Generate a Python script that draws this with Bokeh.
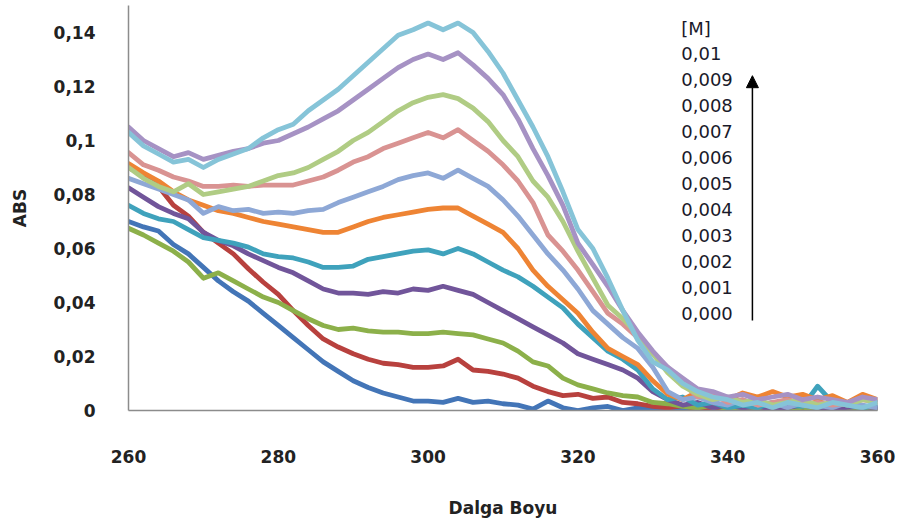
from bokeh.plotting import figure
from bokeh.models import FixedTicker, Arrow, NormalHead, Range1d, ColumnDataSource
from bokeh.core.properties import value
from bokeh.embed import file_html
from bokeh.resources import INLINE

# ---------------- data ----------------
wavelength = [260, 262, 264, 266, 268, 270, 272, 274, 276, 278,
              280, 282, 284, 286, 288, 290, 292, 294, 296, 298,
              300, 302, 304, 306, 308, 310, 312, 314, 316, 318,
              320, 322, 324, 326, 328, 330, 332, 334, 336, 338,
              340, 342, 344, 346, 348, 350, 352, 354, 356, 358, 360]

abs_0000 = [.0700, .0680, .0665, .0615, .0580, .0530, .0480, .0440, .0405, .0360,
            .0315, .0270, .0225, .0180, .0145, .0110, .0085, .0065, .0050, .0035,
            .0035, .0030, .0045, .0030, .0035, .0025, .0020, .0005, .0035, .0010,
            .0000, .0010, .0015, .0000, .0010, .0005, .0012, .0002, .0010, .0004,
            .0012, .0000, .0006, .0012, .0002, .0008, .0012, .0002, .0006, .0010, .0003]
abs_0001 = [.0900, .0870, .0830, .0760, .0720, .0660, .0620, .0580, .0525, .0475,
            .0430, .0370, .0315, .0265, .0235, .0210, .0190, .0175, .0170, .0160,
            .0160, .0165, .0190, .0150, .0145, .0135, .0120, .0090, .0070, .0055,
            .0060, .0045, .0050, .0030, .0025, .0015, .0010, .0018, .0005, .0012,
            .0002, .0010, .0006, .0000, .0010, .0005, .0002, .0010, .0006, .0001, .0010]
abs_0002 = [.0675, .0650, .0620, .0590, .0550, .0490, .0510, .0480, .0450, .0420,
            .0400, .0370, .0340, .0315, .0300, .0305, .0295, .0290, .0290, .0285,
            .0285, .0290, .0285, .0280, .0265, .0250, .0220, .0180, .0165, .0120,
            .0095, .0080, .0065, .0055, .0050, .0030, .0025, .0015, .0010, .0020,
            .0005, .0012, .0003, .0010, .0005, .0012, .0002, .0010, .0005, .0012, .0004]
abs_0003 = [.0825, .0790, .0755, .0730, .0710, .0660, .0630, .0610, .0580, .0555,
            .0530, .0510, .0480, .0450, .0435, .0435, .0430, .0440, .0435, .0450,
            .0445, .0460, .0445, .0430, .0400, .0370, .0340, .0310, .0280, .0250,
            .0210, .0190, .0170, .0150, .0120, .0070, .0040, .0020, .0030, .0010,
            .0020, .0010, .0015, .0005, .0012, .0020, .0010, .0005, .0012, .0015, .0010]
abs_0004 = [.0760, .0730, .0710, .0700, .0670, .0640, .0630, .0620, .0605, .0580,
            .0570, .0565, .0550, .0530, .0530, .0535, .0560, .0570, .0580, .0590,
            .0595, .0580, .0600, .0580, .0550, .0520, .0495, .0460, .0420, .0380,
            .0320, .0270, .0220, .0190, .0150, .0080, .0040, .0050, .0020, .0030,
            .0010, .0020, .0010, .0030, .0020, .0015, .0090, .0030, .0020, .0010, .0020]
abs_0005 = [.0915, .0880, .0850, .0810, .0780, .0760, .0740, .0730, .0715, .0700,
            .0690, .0680, .0670, .0660, .0660, .0680, .0700, .0715, .0725, .0735,
            .0745, .0750, .0750, .0720, .0690, .0660, .0600, .0520, .0460, .0410,
            .0360, .0290, .0230, .0200, .0170, .0110, .0060, .0040, .0070, .0060,
            .0040, .0065, .0050, .0070, .0050, .0060, .0040, .0055, .0030, .0060, .0040]
abs_0006 = [.0860, .0840, .0820, .0800, .0780, .0730, .0755, .0740, .0745, .0730,
            .0735, .0730, .0740, .0745, .0770, .0790, .0810, .0830, .0855, .0870,
            .0880, .0860, .0890, .0860, .0830, .0780, .0720, .0650, .0580, .0520,
            .0450, .0370, .0320, .0270, .0230, .0160, .0070, .0040, .0050, .0030,
            .0020, .0040, .0020, .0030, .0010, .0030, .0020, .0010, .0030, .0020, .0010]
abs_0007 = [.0955, .0910, .0890, .0865, .0850, .0830, .0830, .0835, .0830, .0835,
            .0835, .0835, .0850, .0865, .0890, .0920, .0940, .0970, .0990, .1010,
            .1030, .1010, .1040, .1000, .0960, .0910, .0850, .0770, .0650, .0590,
            .0520, .0440, .0360, .0320, .0270, .0210, .0160, .0100, .0050, .0060,
            .0030, .0040, .0020, .0030, .0040, .0020, .0030, .0020, .0030, .0040, .0030]
abs_0008 = [.0900, .0860, .0830, .0810, .0840, .0800, .0810, .0820, .0830, .0850,
            .0870, .0880, .0900, .0930, .0960, .1000, .1030, .1070, .1110, .1140,
            .1160, .1170, .1155, .1120, .1070, .1000, .0940, .0850, .0790, .0700,
            .0590, .0490, .0390, .0340, .0280, .0210, .0140, .0090, .0060, .0040,
            .0050, .0030, .0040, .0020, .0030, .0040, .0020, .0030, .0020, .0040, .0030]
abs_0009 = [.1050, .1000, .0970, .0940, .0955, .0930, .0945, .0960, .0970, .0990,
            .1000, .1025, .1050, .1080, .1110, .1150, .1190, .1230, .1270, .1300,
            .1320, .1300, .1325, .1280, .1230, .1170, .1080, .0970, .0870, .0760,
            .0620, .0540, .0460, .0370, .0290, .0220, .0160, .0120, .0080, .0070,
            .0050, .0060, .0040, .0050, .0060, .0040, .0050, .0040, .0030, .0050, .0040]
abs_0010 = [.1030, .0980, .0950, .0920, .0930, .0900, .0930, .0950, .0970, .1010,
            .1040, .1060, .1110, .1150, .1190, .1240, .1290, .1340, .1390, .1410,
            .1435, .1410, .1435, .1400, .1330, .1250, .1150, .1050, .0940, .0810,
            .0670, .0600, .0490, .0370, .0260, .0180, .0150, .0100, .0070, .0050,
            .0040, .0020, .0030, .0010, .0030, .0020, .0010, .0030, .0020, .0010, .0030]

series = [abs_0000, abs_0001, abs_0002, abs_0003, abs_0004, abs_0005,
          abs_0006, abs_0007, abs_0008, abs_0009, abs_0010]
series_colors = ["#4375B7", "#B8413E", "#8CB04A", "#71559A", "#3FA2BC", "#EE8434",
                 "#8EA8D6", "#D99392", "#B0CC84", "#A692C4", "#86C4D8"]

key_title = "[M]"
key_labels = ["0,01", "0,009", "0,008", "0,007", "0,006", "0,005",
              "0,004", "0,003", "0,002", "0,001", "0,000"]

x_ticks = [260, 280, 300, 320, 340, 360]
x_tick_labels = ["260", "280", "300", "320", "340", "360"]
y_ticks = [0, 0.02, 0.04, 0.06, 0.08, 0.1, 0.12, 0.14]
y_tick_labels = ["0", "0,02", "0,04", "0,06", "0,08", "0,1", "0,12", "0,14"]

# ---------------- figure ----------------
p = figure(width=904, height=528,
           x_range=Range1d(260, 360), y_range=Range1d(0, 0.15),
           output_backend="svg", toolbar_location=None,
           min_border_left=128, min_border_right=27,
           min_border_top=5, min_border_bottom=118)
p.outline_line_color = None
p.xgrid.visible = False
p.ygrid.visible = False
p.background_fill_color = "white"
p.border_fill_color = "white"

for ys, col in zip(series, series_colors):
    p.line(wavelength, ys, line_color=col, line_width=4.8,
           line_join="round", line_cap="round")

tick_font = "DejaVu Sans"
for ax in (p.xaxis[0], p.yaxis[0]):
    ax.major_tick_line_color = None
    ax.minor_tick_line_color = None
    ax.axis_line_color = "#8C8C8C"
    ax.axis_line_width = 1.5
    ax.major_label_text_font = tick_font
    ax.major_label_text_font_style = "bold"
    ax.major_label_text_font_size = "17px"
    ax.major_label_text_color = "#222222"
    ax.axis_label_text_font = tick_font
    ax.axis_label_text_font_style = "bold"
    ax.axis_label_text_font_size = "17px"
    ax.axis_label_text_color = "#222222"

p.xaxis.ticker = FixedTicker(ticks=x_ticks)
p.xaxis.major_label_overrides = dict(zip(x_ticks, x_tick_labels))
p.xaxis.major_label_standoff = 33
p.xaxis.axis_label = "Dalga Boyu"
p.xaxis.axis_label_standoff = 32

p.yaxis.ticker = FixedTicker(ticks=y_ticks)
p.yaxis.major_label_overrides = dict(zip(y_ticks, y_tick_labels))
p.yaxis.major_label_standoff = 27
p.yaxis.axis_label = "ABS"
p.yaxis.axis_label_standoff = 21

# ---------------- concentration key ----------------
key_x = 333.8
key_top = 0.1322
key_step = 0.00963
key_y = [key_top - i * key_step for i in range(len(key_labels))]
src = ColumnDataSource(dict(x=[key_x] * (len(key_labels) + 1),
                            y=[0.1415] + key_y,
                            t=[key_title] + key_labels))
p.text(x="x", y="y", text="t", source=src,
       text_font=value("DejaVu Sans"), text_font_size="18px",
       text_color="#1A1A2A", text_baseline="middle", text_align="left")

p.add_layout(Arrow(end=NormalHead(size=12, fill_color="black", line_color="black"),
                   x_start=343.3, y_start=0.0333, x_end=343.3, y_end=0.1240,
                   line_color="black", line_width=1.5))

open("out.html", "w").write(file_html(p, INLINE))
